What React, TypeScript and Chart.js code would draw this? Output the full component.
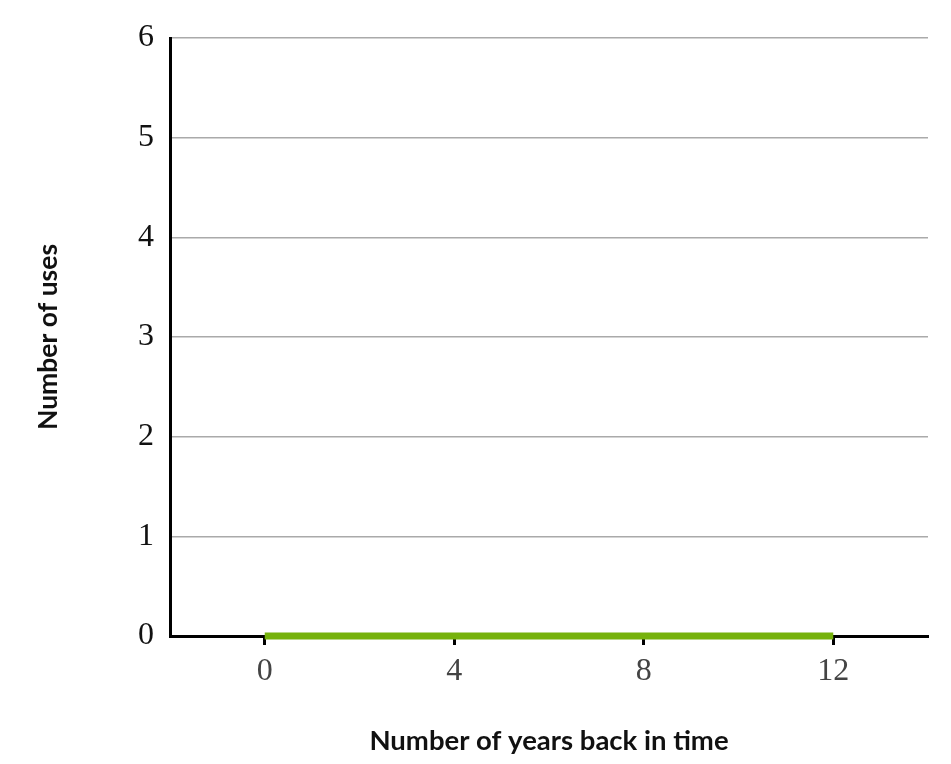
import React, { useEffect, useRef } from "react";
import { Chart, registerables } from "chart.js";

Chart.register(...registerables);

const yearsBack = [0, 4, 8, 12];
const uses = [0, 0, 0, 0];
const xTickValues = [0, 4, 8, 12];
const xTitle = "Number of years back in time";
const yTitle = "Number of uses";

export default function App() {
  const ref = useRef<HTMLCanvasElement | null>(null);
  useEffect(() => {
    if (!ref.current) return;
    const chart = new Chart(ref.current, {
      type: "line",
      data: {
        datasets: [
          {
            data: yearsBack.map((x, i) => ({ x, y: uses[i] })),
            borderColor: "#76b20c",
            borderWidth: 7,
            pointRadius: 0,
            clip: false as any,
            tension: 0,
          },
        ],
      },
      options: {
        animation: false,
        responsive: false,
        maintainAspectRatio: false,
        layout: { padding: { top: 38, right: 23, left: 0, bottom: 0 } },
        plugins: { legend: { display: false }, tooltip: { enabled: false } },
        scales: {
          x: {
            type: "linear",
            min: -2,
            max: 14,
            afterBuildTicks: (s: any) => {
              s.ticks = xTickValues.map((v) => ({ value: v }));
            },
            afterFit: (s: any) => {
              s.height = 764 - 636;
            },
            grid: {
              drawOnChartArea: false,
              drawTicks: true,
              tickLength: 9,
              tickColor: "#000",
              tickWidth: 3,
            },
            border: { display: true, color: "#000", width: 3 },
            ticks: {
              color: "#444",
              font: { family: "Liberation Serif", size: 32 },
              padding: 7,
              maxRotation: 0,
              autoSkip: false,
            },
            title: {
              display: true,
              text: xTitle,
              color: "#111",
              font: { family: "Lato", size: 27.5, weight: "bold" },
              padding: { top: 0, bottom: 6 },
            },
          },
          y: {
            type: "linear",
            min: 0,
            max: 6,
            afterFit: (s: any) => {
              s.width = 170;
            },
            grid: {
              color: "#aaaaaa",
              lineWidth: 1.5,
              drawTicks: false,
            },
            border: { display: true, color: "#000", width: 3 },
            ticks: {
              stepSize: 1,
              color: "#111",
              font: { family: "Liberation Serif", size: 32 },
              padding: 16,
            },
            title: {
              display: true,
              text: yTitle,
              color: "#111",
              font: { family: "Lato", size: 26.5, weight: "bold" },
              padding: { top: 33, bottom: 0 },
            },
          },
        },
      },
    });
    return () => chart.destroy();
  }, []);
  return (
    <canvas
      ref={ref}
      width={951}
      height={764}
      style={{ position: "absolute", left: 0, top: 0, width: 951, height: 764 }}
    />
  );
}
